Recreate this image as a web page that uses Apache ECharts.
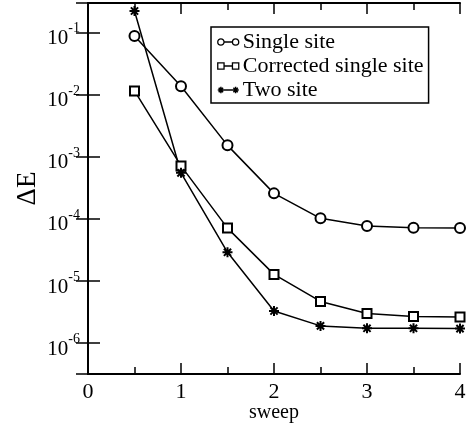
<!DOCTYPE html>
<html>
<head>
<meta charset="utf-8">
<script src="https://cdn.jsdelivr.net/npm/echarts@6/dist/echarts.min.js"></script>
<style>
html,body{margin:0;padding:0;background:#fff;}
#c{width:466px;height:428px;}
</style>
</head>
<body>
<div id="c"></div>
<script>
const sweeps = [0.5, 1, 1.5, 2, 2.5, 3, 3.5, 4];
const singleSite = [0.087, 0.0136, 1.52e-3, 2.57e-4, 1.02e-4, 7.7e-5, 7.2e-5, 7.1e-5];
const correctedSingleSite = [0.0114, 7.1e-4, 7.1e-5, 1.28e-5, 4.7e-6, 3.0e-6, 2.7e-6, 2.65e-6];
const twoSite = [0.22, 5.5e-4, 2.9e-5, 3.3e-6, 1.9e-6, 1.74e-6, 1.74e-6, 1.72e-6];
const seriesNames = ['Single site', 'Corrected single site', 'Two site'];
const xTicks = [0, 1, 2, 3, 4];

const FONT = 'Liberation Serif';
const pair = ys => sweeps.map((x, i) => [x, ys[i]]);

const starPath = 'path://M0,-5V5M-5,0H5M-3.6,-3.6L3.6,3.6M-3.6,3.6L3.6,-3.6';
const legCircle = 'path://M0.5,3.5A3,3 0 1,0 6.5,3.5A3,3 0 1,0 0.5,3.5ZM6.5,3.5L14.5,3.5M14.5,3.5A3,3 0 1,0 20.5,3.5A3,3 0 1,0 14.5,3.5Z';
const legSquare = 'path://M0.5,0.5L6.5,0.5L6.5,6.5L0.5,6.5ZM6.5,3.5L14.5,3.5M14.5,0.5L20.5,0.5L20.5,6.5L14.5,6.5Z';
const legStar = 'path://M3.5,0.5L3.5,6.5M0.5,3.5L6.5,3.5M1.4,1.4L5.6,5.6M1.4,5.6L5.6,1.4M6.5,3.5L14.5,3.5M17.5,0.5L17.5,6.5M14.5,3.5L20.5,3.5M15.4,1.4L19.6,5.6M15.4,5.6L19.6,1.4';

const chart = echarts.init(document.getElementById('c'), null, {renderer: 'canvas'});

const axisLine = {show: true, lineStyle: {color: '#000', width: 2}};
const legItemStyle = {color: '#fff', borderColor: '#000', borderWidth: 1.3};

chart.setOption({
  animation: false,
  backgroundColor: '#fff',
  textStyle: {fontFamily: FONT, color: '#000'},
  grid: {left: 88, right: 6, top: 3, bottom: 54, containLabel: false, outerBoundsMode: 'none'},
  legend: {
    left: 211, top: 27, orient: 'vertical',
    borderColor: '#000', borderWidth: 1.5, borderRadius: 0,
    padding: [4, 5, 2, 6],
    itemWidth: 21, itemHeight: 7, itemGap: 2,
    textStyle: {fontFamily: FONT, fontSize: 22, color: '#000', lineHeight: 22, padding: [0, 0, 0, -1]},
    data: [
      {name: seriesNames[0], icon: legCircle, itemStyle: legItemStyle},
      {name: seriesNames[1], icon: legSquare, itemStyle: legItemStyle},
      {name: seriesNames[2], icon: legStar, itemStyle: {color: '#000', borderColor: '#000', borderWidth: 1.5}}
    ]
  },
  xAxis: [{
    type: 'value', min: xTicks[0], max: xTicks[xTicks.length - 1], interval: 1,
    position: 'bottom',
    name: 'sweep', nameLocation: 'middle', nameGap: 29, nameMoveOverlap: false,
    nameTextStyle: {fontFamily: FONT, fontSize: 20, color: '#000'},
    axisLine: axisLine,
    axisTick: {show: true, inside: true, length: 11, lineStyle: {color: '#000', width: 1.5}},
    minorTick: {show: true, splitNumber: 2, length: 7, lineStyle: {color: '#000', width: 1.5}},
    axisLabel: {fontFamily: FONT, fontSize: 22, color: '#000', margin: 7},
    splitLine: {show: false}, minorSplitLine: {show: false}
  }, {
    type: 'value', min: xTicks[0], max: xTicks[xTicks.length - 1], interval: 1,
    position: 'top',
    axisLine: axisLine,
    axisTick: {show: true, inside: true, length: 11, lineStyle: {color: '#000', width: 1.5}},
    minorTick: {show: true, splitNumber: 2, length: 7, lineStyle: {color: '#000', width: 1.5}},
    axisLabel: {show: false},
    splitLine: {show: false}, minorSplitLine: {show: false}
  }],
  yAxis: [{
    type: 'log', logBase: 10, min: 3.2e-7, max: 0.296, splitNumber: 6,
    position: 'left',
    name: 'ΔE', nameLocation: 'middle', nameGap: 47, nameMoveOverlap: false,
    nameTextStyle: {fontFamily: FONT, fontSize: 27, color: '#000'},
    axisLine: axisLine,
    axisTick: {show: true, inside: true, length: 12, lineStyle: {color: '#000', width: 1.5}},
    axisLabel: {
      showMinLabel: false, showMaxLabel: false, margin: 8,
      padding: [6, 0, 0, 0],
      formatter: v => '{b|10}{s|' + Math.round(Math.log10(v)) + '}',
      rich: {
        b: {fontFamily: FONT, fontSize: 21, color: '#000', lineHeight: 27, verticalAlign: 'bottom'},
        s: {fontFamily: FONT, fontSize: 14, color: '#000', lineHeight: 14, verticalAlign: 'top'}
      }
    },
    splitLine: {show: false}
  }, {
    type: 'log', logBase: 10, min: 3.2e-7, max: 0.296, splitNumber: 6,
    position: 'right',
    axisLine: axisLine,
    axisTick: {show: true, inside: true, length: 12, lineStyle: {color: '#000', width: 1.5}},
    axisLabel: {show: false},
    splitLine: {show: false}
  }],
  series: [{
    name: seriesNames[0], type: 'line', xAxisIndex: 0, yAxisIndex: 0,
    data: pair(singleSite),
    symbol: 'emptyCircle', symbolSize: 10,
    lineStyle: {color: '#000', width: 1.5},
    itemStyle: {color: '#000', borderWidth: 1.5}
  }, {
    name: seriesNames[1], type: 'line', xAxisIndex: 0, yAxisIndex: 0,
    data: pair(correctedSingleSite),
    symbol: 'emptyRect', symbolSize: 9,
    lineStyle: {color: '#000', width: 1.5},
    itemStyle: {color: '#000', borderWidth: 1.5}
  }, {
    name: seriesNames[2], type: 'line', xAxisIndex: 0, yAxisIndex: 0,
    data: pair(twoSite),
    symbol: starPath, symbolSize: 10,
    lineStyle: {color: '#000', width: 1.5},
    itemStyle: {color: '#000', borderColor: '#000', borderWidth: 2}
  }]
});
</script>
</body>
</html>
